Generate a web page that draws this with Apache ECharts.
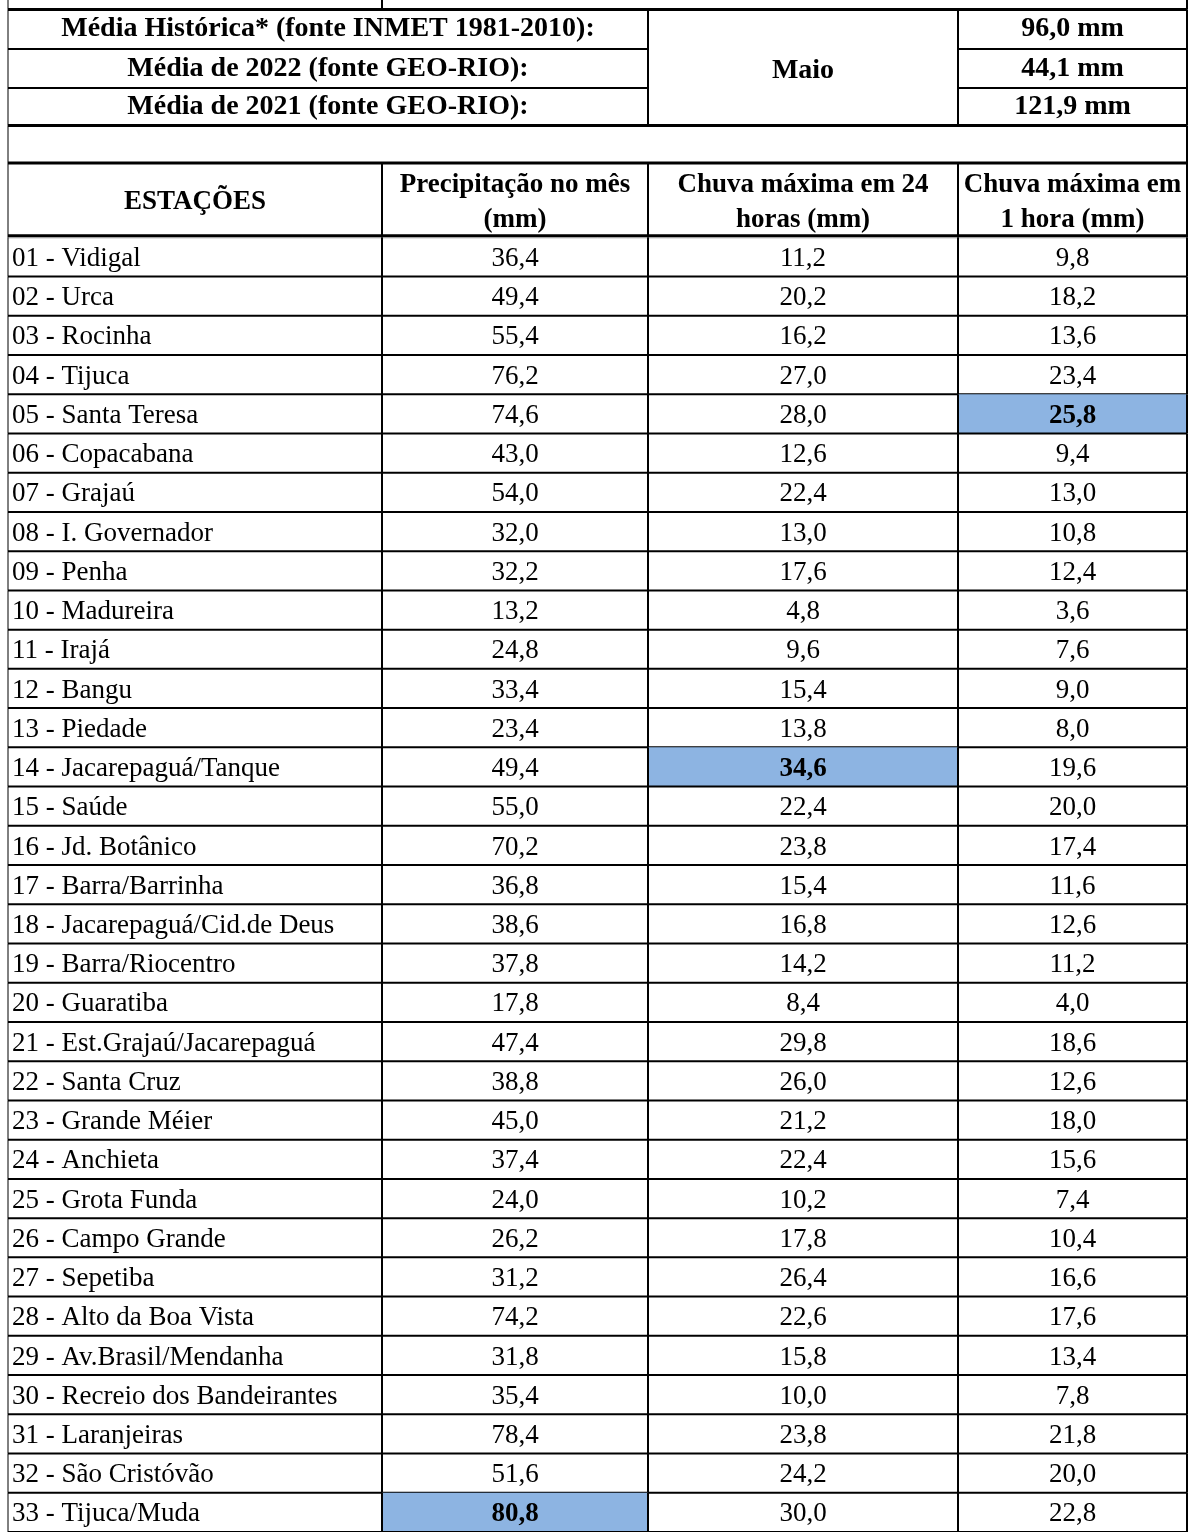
<!DOCTYPE html>
<html><head><meta charset="utf-8">
<script src="https://cdn.jsdelivr.net/npm/echarts@6/dist/echarts.min.js"></script>
<style>html,body{margin:0;padding:0;background:#fff}#c{width:1189px;height:1532px}</style>
</head><body><div id="c"></div>
<script>
// ---------- DATA ----------
const stations = [
  '01 - Vidigal','02 - Urca','03 - Rocinha','04 - Tijuca','05 - Santa Teresa','06 - Copacabana',
  '07 - Grajaú','08 - I. Governador','09 - Penha','10 - Madureira','11 - Irajá','12 - Bangu',
  '13 - Piedade','14 - Jacarepaguá/Tanque','15 - Saúde','16 - Jd. Botânico','17 - Barra/Barrinha',
  '18 - Jacarepaguá/Cid.de Deus','19 - Barra/Riocentro','20 - Guaratiba','21 - Est.Grajaú/Jacarepaguá',
  '22 - Santa Cruz','23 - Grande Méier','24 - Anchieta','25 - Grota Funda','26 - Campo Grande',
  '27 - Sepetiba','28 - Alto da Boa Vista','29 - Av.Brasil/Mendanha','30 - Recreio dos Bandeirantes',
  '31 - Laranjeiras','32 - São Cristóvão','33 - Tijuca/Muda'
];
const precipMes = [36.4,49.4,55.4,76.2,74.6,43.0,54.0,32.0,32.2,13.2,24.8,33.4,23.4,49.4,55.0,70.2,36.8,38.6,37.8,17.8,47.4,38.8,45.0,37.4,24.0,26.2,31.2,74.2,31.8,35.4,78.4,51.6,80.8];
const max24h   = [11.2,20.2,16.2,27.0,28.0,12.6,22.4,13.0,17.6,4.8,9.6,15.4,13.8,34.6,22.4,23.8,15.4,16.8,14.2,8.4,29.8,26.0,21.2,22.4,10.2,17.8,26.4,22.6,15.8,10.0,23.8,24.2,30.0];
const max1h    = [9.8,18.2,13.6,23.4,25.8,9.4,13.0,10.8,12.4,3.6,7.6,9.0,8.0,19.6,20.0,17.4,11.6,12.6,11.2,4.0,18.6,12.6,18.0,15.6,7.4,10.4,16.6,17.6,13.4,7.8,21.8,20.0,22.8];
const refLabels = ['Média Histórica* (fonte INMET 1981-2010):','Média de 2022 (fonte GEO-RIO):','Média de 2021 (fonte GEO-RIO):'];
const refValues = [96.0, 44.1, 121.9];
const refUnit = 'mm';
const monthLabel = 'Maio';
const columnHeaders = ['ESTAÇÕES','Precipitação no mês\n(mm)','Chuva máxima em 24\nhoras (mm)','Chuva máxima em\n1 hora (mm)'];

// ---------- LAYOUT / STYLE ----------
const W = 1189;
const colEdges = [8, 382, 648, 958, 1187];
const hStrip = 9.5;
const hRef = [9.5, 49, 88, 125.5];
const hBlankEnd = 163;
const hHeadEnd = 237.3;
const rowH = 39.37;
const FONT = '"Liberation Serif","Times New Roman",serif';
const FS = 27;
const HILITE = '#8DB4E2';

const cols = [precipMes, max24h, max1h];
const colMax = cols.map(a => Math.max.apply(null, a));
const fmt = v => v.toFixed(1).replace('.', ',');

function ln(x1,y1,x2,y2,w,c){return {type:'line',shape:{x1,y1,x2,y2},style:{stroke:c||'#000',lineWidth:w}};}
function tx(t,x,y,align,weight,fs){return {type:'text',style:{text:t,x,y,align:align,verticalAlign:'middle',fontFamily:FONT,fontSize:fs||FS,fontWeight:weight||'normal',fill:'#000',lineHeight:35}};}

function renderHeader(params, api){
  const i = params.dataIndex;
  const P = (x,y)=>api.coord([x,y]);
  const X = colEdges.map(e=>P(e,0)[0]);
  const Y = v=>P(0,v)[1];
  const ch = [];
  const y0 = Y(hRef[i]), y1 = Y(hRef[i+1]);
  ch.push(tx(refLabels[i], (X[0]+X[2])/2, (y0+y1)/2, 'center','bold',28));
  ch.push(tx(fmt(api.value(1))+' '+refUnit, (X[3]+X[4])/2, (y0+y1)/2, 'center','bold',28));
  if (i < refLabels.length-1){
    ch.push(ln(X[0],y1,X[2],y1,2));
    ch.push(ln(X[3],y1,X[4],y1,2));
  }
  if (i === 0){
    const yS=Y(hStrip), yR=Y(hRef[3]), yB=Y(hBlankEnd), yH=Y(hHeadEnd), yT=Y(0);
    ch.push(ln(X[0],yT,X[0],yS,1));
    ch.push(ln(X[1],yT,X[1],yS,2));
    ch.push(ln(X[4],yT,X[4],yS,2));
    [0,2,3,4].forEach(k=>ch.push(ln(X[k],yS,X[k],yR,k===0?1:2)));
    ch.push(tx(monthLabel,(X[2]+X[3])/2,(yS+yR)/2+3,'center','bold',28));
    ch.push(ln(X[0],yR,X[0],yB,1));
    ch.push(ln(X[4],yR,X[4],yB,2));
    X.forEach((x,k)=>ch.push(ln(x,yB,x,yH,k===0?1:2)));
    columnHeaders.forEach((t,k)=>ch.push(tx(t,(X[k]+X[k+1])/2,(yB+yH)/2+2,'center','bold')));
    ch.push(ln(X[0],yS,X[4],yS,3));
    ch.push(ln(X[0],yR,X[4],yR,3));
    ch.push(ln(X[0],yB,X[4],yB,3));
    ch.push(ln(X[0],yH-1.5,X[4],yH-1.5,3));
    ch.push(ln(X[0],yH+0.5,X[4],yH+0.5,1,'#9a9a9a'));
  }
  return {type:'group',children:ch};
}

function renderRow(params, api){
  const i = api.value(0);
  const c = api.coord([0,i]);
  const h = api.size([0,1])[1];
  const yTop=c[1]-h/2, yBot=c[1]+h/2, yc=c[1];
  const X = colEdges.map(e=>api.coord([e,i])[0]);
  const vals=[api.value(1),api.value(2),api.value(3)];
  const ch=[];
  vals.forEach((v,k)=>{ if(v===colMax[k]) ch.push({type:'rect',shape:{x:X[k+1],y:yTop,width:X[k+2]-X[k+1],height:h},style:{fill:HILITE}}); });
  ch.push(ln(X[0],yBot,X[4],yBot,2));
  X.forEach((x,k)=>ch.push(ln(x,yTop,x,yBot,k===0?1:2)));
  ch.push(tx(stations[i],X[0]+4,yc+2,'left','normal'));
  vals.forEach((v,k)=>ch.push(tx(fmt(v),(X[k+1]+X[k+2])/2,yc+2,'center',v===colMax[k]?'bold':'normal')));
  return {type:'group',children:ch};
}

const chart = echarts.init(document.getElementById('c'), null, {renderer:'canvas'});
chart.setOption({
  animation:false,
  backgroundColor:'#fff',
  grid:[
    {left:0, top:0, width:W, height:hHeadEnd},
    {left:0, top:hHeadEnd, width:W, height:rowH*stations.length}
  ],
  xAxis:[
    {gridIndex:0,type:'value',min:0,max:W,show:false},
    {gridIndex:1,type:'value',min:0,max:W,show:false}
  ],
  yAxis:[
    {gridIndex:0,type:'value',min:0,max:hHeadEnd,inverse:true,show:false},
    {gridIndex:1,type:'category',data:stations,inverse:true,show:false}
  ],
  series:[
    {type:'custom',xAxisIndex:0,yAxisIndex:0,clip:false,silent:true,
     data:refValues.map((v,i)=>[i,v]),encode:{x:-1,y:0},renderItem:renderHeader},
    {type:'custom',xAxisIndex:1,yAxisIndex:1,clip:false,silent:true,
     data:stations.map((s,i)=>[i,precipMes[i],max24h[i],max1h[i]]),encode:{y:0},renderItem:renderRow}
  ]
});
</script></body></html>
